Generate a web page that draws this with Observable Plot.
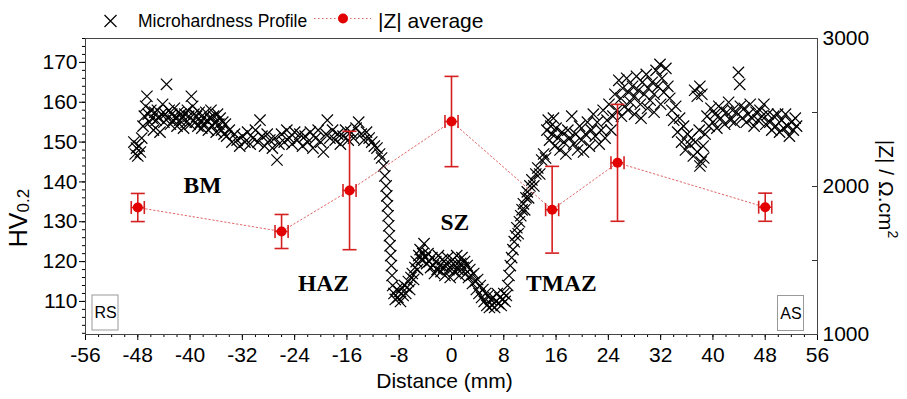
<!DOCTYPE html>
<html>
<head>
<meta charset="utf-8">
<script src="https://cdn.jsdelivr.net/npm/d3@7"></script>
<script src="https://cdn.jsdelivr.net/npm/@observablehq/plot@0.6"></script>
<style>
  body { margin: 0; background: #fff; }
  #chart svg { overflow: visible; }
</style>
</head>
<body>
<div id="chart"></div>
<script>
// ---------- data ----------
// Microhardness profile: [distance (mm), HV0.2]
const microhardness = [
  [-48.6,150],[-48.4,147],[-48.2,148.5],[-48,146.5],[-47.8,149],[-47.6,147.5],[-47.4,151],
  [-47.2,154],[-47,156.5],[-46.8,159],[-46.6,161.5],[-46.4,157],[-46.2,155],[-46,158],[-45.8,156],
  [-45.6,153],[-45.4,157.5],[-45.2,155.5],[-45,158],[-44.8,156],[-44.6,152.5],[-44.4,157],[-44.2,159.5],
  [-44,155],[-43.8,157],[-43.6,164.5],[-43.4,156],[-43.2,158],[-43,154.5],[-42.8,157],[-42.6,155.5],
  [-42.4,158.5],[-42.2,156],[-42,154],[-41.8,157.5],[-41.6,155.5],[-41.4,157],[-41.2,156],[-41,153.5],
  [-40.8,157],[-40.6,155],[-40.4,158],[-40.2,156.5],[-40,154.5],[-39.8,161.5],[-39.6,159],[-39.4,157],
  [-39.2,155],[-39,156.5],[-38.8,154],[-38.6,157.5],[-38.4,155],[-38.2,153.5],[-38,156],[-37.8,154.5],
  [-37.6,157.5],[-37.4,155.5],[-37.2,153],[-37,156],[-36.8,158],[-36.6,154],[-36.4,156.5],[-36.2,155],
  [-36,152.5],[-35.8,157],[-35.6,154.5],[-35.4,156],[-35.2,153],[-35,155],[-34.8,152],[-34.6,154.5],
  [-34.4,151.5],[-34,153],[-33.6,150],[-33.2,152],[-32.8,150.5],[-32.4,149],[-32,151.5],[-31.6,150],
  [-31.2,152.5],[-30.8,149.5],[-30.4,151],[-30,153],[-29.6,150],[-29.3,155.5],[-29,151.5],[-28.6,149],
  [-28.2,152],[-27.8,150.5],[-27.4,148.5],[-27,151],[-26.7,145.5],[-26.4,149.5],[-26,152],[-25.6,150],
  [-25.2,153],[-24.8,151],[-24.4,149.5],[-24,152.5],[-23.6,150.5],[-23.2,152],[-22.8,149],[-22.4,151.5],
  [-22,150],[-21.6,152.5],[-21.2,148.5],[-20.8,151],[-20.4,153],[-20,150],[-19.6,147.5],[-19.2,152],
  [-19,155.5],[-18.6,151],[-18.2,153],[-17.8,150.5],[-17.4,152],[-17,149.5],[-16.6,151.5],[-16.2,153],
  [-15.8,150.5],[-15.4,152.5],[-15,151],[-14.6,153.5],[-14.2,155],[-13.8,152],[-13.4,150.5],[-13,152.5],
  [-12.6,151],[-12.2,150],
  [-11.8,149],[-11.4,148.5],[-11,147],[-10.7,146],[-10.4,144],[-10.2,141.5],[-10,139],[-9.9,136.5],
  [-9.8,134],[-9.7,131.5],[-9.6,129],[-9.5,126.5],[-9.4,124],[-9.3,121.5],[-9.2,119],[-9.1,116.5],[-9,114],
  [-8.8,112],[-8.6,110.5],[-8.4,113],[-8.2,111],[-8,112.5],[-7.8,110],[-7.6,113.5],[-7.4,111.5],
  [-7.2,114],[-7,112],[-6.8,113.5],[-6.6,115],[-6.4,113],[-6.2,116],
  [-6,117],[-5.8,115.5],[-5.6,118.5],[-5.4,120],[-5.2,118],[-5,121.5],[-4.8,123],[-4.6,120.5],
  [-4.4,122],[-4.2,124.5],[-4,121],[-3.8,119.5],[-3.6,122],[-3.4,120],
  [-3.2,118.5],[-3,121],[-2.8,119],[-2.6,117],[-2.4,120],[-2.2,118],[-2,121.5],[-1.8,119],[-1.6,117.5],
  [-1.4,120.5],[-1.2,118.5],[-1,116.5],[-0.8,119.5],[-0.6,121],[-0.4,118],[-0.2,116],[0,119],[0.2,120.5],
  [0.4,117.5],[0.6,119],[0.8,121.5],[1,118],[1.2,116.5],[1.4,119.5],[1.6,121],[1.8,118.5],[2,120],
  [2.2,117],[2.4,119],[2.6,116],[2.8,118],
  [3,116.5],[3.2,114.5],[3.4,117],[3.6,115],[3.8,113],[4,115.5],[4.2,112],[4.4,114],[4.6,111],[4.8,113],
  [5,110],[5.2,112],[5.4,109],[5.6,111.5],[5.8,108.5],[6,110.5],[6.2,109],[6.4,111],[6.6,108.5],[6.8,110],
  [7,112],[7.2,109.5],[7.4,111],[7.6,109],[7.8,110.5],[8,112],[8.2,110],[8.4,111.5],
  [8.6,114],[8.8,116.5],[9,119],[9.2,121],[9.4,123],[9.6,125],[9.8,126.5],[10,128.5],[10.2,127],[10.4,130],
  [10.6,131.5],[10.8,133],[11,134.5],[11.2,133],[11.4,136],[11.6,137.5],[11.8,136],[12,139],[12.3,140.5],
  [12.6,139],[12.9,142],[13.2,143.5],[13.5,142],[13.8,145.5],[14.1,147],[14.4,146],
  [14.6,153],[14.8,155.5],[15,150.5],[15.2,154],[15.4,152],[15.6,156],[15.8,149],[16,153.5],[16.3,151],
  [16.6,148],[16.9,152.5],[17.2,150],[17.5,147],[17.8,153],[18.1,151],[18.4,156.5],[18.7,149.5],[19,152],
  [19.3,148],[19.6,154],[19.9,150.5],[20.2,147.5],[20.5,152],[20.8,155],[21.1,149],[21.4,153],[21.7,157],
  [22,151.5],[22.3,155],[22.6,149.5],[22.9,153],[23.2,158],[23.5,151],[23.8,155.5],[24.1,159.5],[24.4,153],
  [24.7,156.5],
  [25,162],[25.3,158],[25.6,165.5],[25.9,161],[26.2,163.5],[26.5,159],[26.8,166],[27.1,162.5],[27.4,160],
  [27.7,164],[28,161.5],[28.3,166.5],[28.6,163],[28.9,159.5],[29.2,165],[29.5,162],[29.8,167],[30.1,163.5],
  [30.4,160.5],[30.7,165],[31,162],[31.3,168],[31.6,164],[31.9,169.5],[32.2,166],[32.5,162.5],[32.8,168.5],
  [33.1,164],[33.4,161],[26,156.5],[27,158],[28,157],[29,156],[30,158.5],[31,157.5],[32,159.5],
  [33.7,158],[34,155.5],[34.3,159],[34.6,152.5],[34.9,156],[35.2,150],[35.5,154],[35.8,148],[36.1,152],
  [36.4,149.5],[36.7,151],[37,146.5],[37.3,150],[37.6,147.5],[37.9,153],[38.2,145],[38.5,149],
  [37.2,163],[37.6,161.5],[38,164],[38.3,162],[38,144],[38.6,146],
  [38.8,152],[39.1,156.5],[39.4,154],[39.7,158.5],[40,155],[40.3,157],[40.6,153.5],[40.9,159],[41.2,156],
  [41.5,158],[41.8,154.5],[42.1,157.5],[42.4,160],[42.7,155.5],
  [43,158],[43.3,155],[43.6,157.5],[43.9,167.5],[44.1,164.5],[44.2,159],[44.5,156],[44.8,158.5],[45.1,155],
  [45.4,157],[45.7,159.5],[46,156],[46.3,154],[46.6,157.5],[46.9,155.5],[47.2,158],[47.5,156.5],[47.8,159.5],
  [48.1,154.5],[48.4,157],[48.7,155],[49,153],[49.3,156.5],[49.6,154],[49.9,157],[50.2,152.5],[50.5,155.5],
  [50.8,153.5],[51.1,157],[51.4,154],[51.7,151.5],[52,155],[52.3,153],[52.6,156],[52.8,154]
];

// |Z| average (ohm.cm2) with error bars
const zDistance      = [-48, -26, -15.6, 0, 15.4, 25.4, 48];
const zAverage       = [1858, 1696, 1973, 2439, 1843, 2160, 1860];
const zError         = [95, 115, 400, 305, 293, 395, 95];
const distanceError  = [1, 1, 1, 1, 1, 1, 1];

// zone labels
const zoneLabel    = ["BM", "HAZ", "SZ", "TMAZ"];
const zoneDistance = [-38.1, -19.6, 0.5, 16.8];
const zoneHardness = [139.1, 114.4, 129.7, 114.4];

// axes
const xTicks     = [-56, -48, -40, -32, -24, -16, -8, 0, 8, 16, 24, 32, 40, 48, 56];
const hvTicks    = [110, 120, 130, 140, 150, 160, 170];
const zTicks     = [1000, 2000, 3000];
const zMinorTicks = [1500, 2500];
const hvDomain   = [101.7, 176];
const zDomain    = [1000, 3000];
const xDomain    = [-56, 56];

// ---------- layout ----------
const W = 907, H = 399;
const mL = 85, mR = 90, mT = 38, mB = 65;
const frameW = W - mL - mR;

const zToHv = z => hvDomain[0] + (z - zDomain[0]) / (zDomain[1] - zDomain[0]) * (hvDomain[1] - hvDomain[0]);
const hvToZ = h => zDomain[0] + (h - hvDomain[0]) / (hvDomain[1] - hvDomain[0]) * (zDomain[1] - zDomain[0]);

const hvData = microhardness.map(([d, hv]) => ({d, hv}));
const zData = zDistance.map((d, i) => ({d, z: zAverage[i], e: zError[i], xe: distanceError[i]}));
const zoneData = zoneLabel.map((t, i) => ({t, d: zoneDistance[i], hv: zoneHardness[i]}));

const hline = {draw(ctx, size) { const r = Math.sqrt(size / Math.PI); ctx.moveTo(-r, 0); ctx.lineTo(r, 0); }};
const vline = {draw(ctx, size) { const r = Math.sqrt(size / Math.PI); ctx.moveTo(0, -r); ctx.lineTo(0, r); }};

const red = "#e30000";
const errRed = "#d42020";
const sans = "'Liberation Sans', Arial, Helvetica, sans-serif";
const serif = "'Liberation Serif', 'Times New Roman', Times, serif";

const range = (a, b, s) => d3.range(a, b + s / 2, s);

const chart = Plot.plot({
  width: W, height: H,
  marginLeft: mL, marginRight: mR, marginTop: mT, marginBottom: mB,
  x: {domain: xDomain},
  y: {domain: hvDomain},
  style: {fontFamily: sans, color: "#000", background: "#fff"},
  marks: [
    // bottom axis
    Plot.axisX({ticks: xTicks, tickSize: 6, tickPadding: 7, fontSize: 21, label: null, tickFormat: d => String(d)}),
    Plot.axisX({ticks: range(-56, 56, 2), tickSize: 3, tickFormat: () => "", label: null}),
    Plot.text(["Distance (mm)"], {text: d => d, frameAnchor: "bottom", dx: -7, dy: 47, fontSize: 21, lineAnchor: "middle"}),
    // left axis
    Plot.axisY({ticks: hvTicks, tickSize: 6, tickPadding: 2, fontSize: 21, label: null, tickFormat: d => String(d)}),
    Plot.axisY({ticks: range(102, 176, 2), tickSize: 3, tickFormat: () => "", label: null}),
    // right axis (|Z|)
    Plot.axisY({anchor: "right", ticks: zTicks.map(zToHv), tickSize: 0, tickPadding: 5, fontSize: 21,
      tickFormat: h => String(Math.round(hvToZ(h))), label: null}),
    Plot.tickY([...zTicks, ...zMinorTicks].map(zToHv), {y: d => d, insetLeft: frameW - 5, stroke: "#333"}),
    Plot.frame({stroke: "#444", strokeWidth: 1}),
    // microhardness profile
    Plot.dot(hvData, {x: "d", y: "hv", symbol: "times", r: 5.2, stroke: "#000", strokeWidth: 1.2}),
    // |Z| average
    Plot.line(zData, {x: "d", y: d => zToHv(d.z), stroke: "#e06666", strokeWidth: 1, strokeDasharray: "1.5,2.5"}),
    Plot.ruleX(zData, {x: "d", y1: d => zToHv(d.z - d.e), y2: d => zToHv(d.z + d.e), stroke: errRed, strokeWidth: 1.6}),
    Plot.dot(zData, {x: "d", y: d => zToHv(d.z + d.e), symbol: hline, r: 7, stroke: errRed, fill: "none", strokeWidth: 1.6}),
    Plot.dot(zData, {x: "d", y: d => zToHv(d.z - d.e), symbol: hline, r: 7, stroke: errRed, fill: "none", strokeWidth: 1.6}),
    Plot.ruleY(zData, {y: d => zToHv(d.z), x1: d => d.d - d.xe, x2: d => d.d + d.xe, stroke: errRed, strokeWidth: 1.6}),
    Plot.dot(zData, {x: d => d.d - d.xe, y: d => zToHv(d.z), symbol: vline, r: 6.5, stroke: errRed, fill: "none", strokeWidth: 1.6}),
    Plot.dot(zData, {x: d => d.d + d.xe, y: d => zToHv(d.z), symbol: vline, r: 6.5, stroke: errRed, fill: "none", strokeWidth: 1.6}),
    Plot.dot(zData, {x: "d", y: d => zToHv(d.z), r: 5, fill: red, stroke: "none"}),
    // zone labels
    Plot.text(zoneData, {x: "d", y: "hv", text: "t", fontFamily: serif, fontWeight: "bold", fontSize: 23.5, lineAnchor: "middle"}),
    // side labels
    Plot.text(["RS"], {text: d => d, frameAnchor: "bottom-left", textAnchor: "middle", dx: 20, dy: -21.5, fontSize: 16, lineAnchor: "middle"}),
    Plot.text(["AS"], {text: d => d, frameAnchor: "bottom-right", textAnchor: "middle", dx: -26.5, dy: -21, fontSize: 16, lineAnchor: "middle"})
  ]
});

document.getElementById("chart").appendChild(chart);

// ---------- extra text: axis titles with sub/superscript, side boxes, legend ----------
const svg = d3.select(chart);
const fb = H - mB;

// boxes around RS / AS
[[mL + 20, fb - 21.5], [W - mR - 26.5, fb - 21]].forEach(([cx, cy]) => {
  svg.append("rect").attr("x", cx - 13).attr("y", cy - 17.5).attr("width", 26).attr("height", 35)
    .attr("fill", "none").attr("stroke", "#999").attr("stroke-width", 1);
});

// left title HV0.2
const hvT = svg.append("text")
  .attr("transform", "translate(27,218) rotate(-90)")
  .attr("text-anchor", "middle").attr("font-family", sans).attr("font-size", 25).attr("fill", "#000");
hvT.append("tspan").text("HV");
hvT.append("tspan").attr("font-size", 17).attr("dy", 2).text("0.2");

// right title |Z| / Ω.cm²
const zT = svg.append("text")
  .attr("transform", "translate(879,189) rotate(90)")
  .attr("text-anchor", "middle").attr("font-family", sans).attr("font-size", 21).attr("fill", "#000");
zT.append("tspan").text("|Z| / Ω.cm");
zT.append("tspan").attr("font-size", 14).attr("dy", -9).text("2");

// legend
const lg = svg.append("g").attr("font-family", sans).attr("fill", "#000").attr("text-anchor", "start");
lg.append("path").attr("d", "M104.5,15 L116.5,27 M104.5,27 L116.5,15").attr("stroke", "#000").attr("stroke-width", 1.2).attr("fill", "none");
lg.append("text").attr("x", 138).attr("y", 27).attr("font-size", 17.5).attr("text-anchor", "start").text("Microhardness Profile");
lg.append("line").attr("x1", 314).attr("x2", 371).attr("y1", 18.5).attr("y2", 18.5)
  .attr("stroke", "#e06666").attr("stroke-width", 1).attr("stroke-dasharray", "1.5,2.5");
lg.append("circle").attr("cx", 343).attr("cy", 18.5).attr("r", 5).attr("fill", red);
lg.append("text").attr("x", 378).attr("y", 28).attr("font-size", 21).attr("text-anchor", "start").text("|Z| average");
</script>
</body>
</html>
